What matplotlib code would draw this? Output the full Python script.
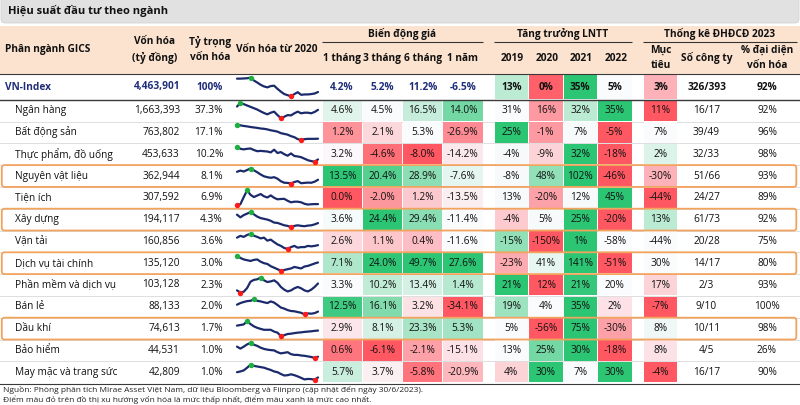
import matplotlib
matplotlib.use("Agg")
import matplotlib.pyplot as plt
from matplotlib.patches import Rectangle, FancyBboxPatch
from matplotlib.colors import LinearSegmentedColormap
import numpy as np

plt.rcParams['font.family'] = ['Open Sans', 'DejaVu Sans']

# ---------------- data ----------------
title = "Hiệu suất đầu tư theo ngành"
sectors = ["Ngân hàng", "Bất động sản", "Thực phẩm, đồ uống", "Nguyên vật liệu",
           "Tiện ích", "Xây dựng", "Vận tải", "Dịch vụ tài chính",
           "Phần mềm và dịch vụ", "Bán lẻ", "Dầu khí", "Bảo hiểm",
           "May mặc và trang sức"]
market_cap = [1663393, 763802, 453633, 362944, 307592, 194117, 160856, 135120,
              103128, 88133, 74613, 44531, 42809]
cap_weight = [37.3, 17.1, 10.2, 8.1, 6.9, 4.3, 3.6, 3.0, 2.3, 2.0, 1.7, 1.0, 1.0]
chg_1m = [4.6, 1.2, 3.2, 13.5, 0.0, 3.6, 2.6, 7.1, 3.3, 12.5, 2.9, 0.6, 5.7]
chg_3m = [4.5, 2.1, -4.6, 20.4, -2.0, 24.4, 1.1, 24.0, 10.2, 16.1, 8.1, -6.1, 3.7]
chg_6m = [16.5, 5.3, -8.0, 28.9, 1.2, 29.4, 0.4, 49.7, 13.4, 3.2, 23.3, -2.1, -5.8]
chg_1y = [14.0, -26.9, -14.2, -7.6, -13.5, -11.4, -11.6, 27.6, 1.4, -34.1, 5.3, -15.1, -20.9]
lntt_2019 = [31, 25, -4, -8, 13, -4, -15, -23, 21, 19, 5, 13, 4]
lntt_2020 = [16, -1, -9, 48, -20, 5, -150, 41, 12, 4, -56, 25, 30]
lntt_2021 = [32, 7, 32, 102, 12, 25, 1, 141, 21, 35, 75, 30, 7]
lntt_2022 = [35, -5, -18, -46, 45, -20, -58, -51, 20, 2, -30, -18, 30]
target = [11, 7, 2, -30, -44, 13, -44, 30, 17, -7, 8, 8, -4]
companies = ["16/17", "39/49", "32/33", "51/66", "24/27", "61/73", "20/28",
             "14/17", "2/3", "9/10", "10/11", "4/5", "16/17"]
cap_represent = [92, 96, 98, 93, 89, 92, 75, 80, 93, 100, 98, 26, 90]
highlighted = ["Nguyên vật liệu", "Xây dựng", "Dịch vụ tài chính", "Dầu khí"]

vn_name = "VN-Index"
vn_cap = 4463901
vn_weight = 100
vn_chg = [4.2, 5.2, 11.2, -6.5]
vn_lntt = [13, 0, 35, 5]
vn_target = 3
vn_companies = "326/393"
vn_represent = 92

price_headers = ["1 tháng", "3 tháng", "6 tháng", "1 năm"]
lntt_headers = ["2019", "2020", "2021", "2022"]

# market-cap trend since 2020 (relative level, read from sparklines)
spark_vn = [0.95, 0.95, 0.96, 0.97, 1.0, 0.85, 0.74, 0.62, 0.53, 0.48, 0.55, 0.57, 0.40,
            0.25, 0.12, 0.06, 0.0, 0.12, 0.22, 0.08, 0.10, 0.10, 0.12, 0.15, 0.23]
spark_sectors = [
    [0.77, 1.0, 0.93, 0.84, 0.75, 0.66, 0.57, 0.45, 0.34, 0.25, 0.36, 0.43, 0.20,
     0.0, 0.09, 0.20, 0.18, 0.32, 0.43, 0.32, 0.36, 0.36, 0.32, 0.41, 0.55],
    [1.0, 0.97, 0.93, 0.90, 0.86, 0.83, 0.80, 0.76, 0.74, 0.70, 0.64, 0.60, 0.55,
     0.45, 0.40, 0.35, 0.25, 0.18, 0.05, 0.0, 0.05, 0.07, 0.07, 0.07, 0.08],
    [1.0, 0.86, 0.82, 0.86, 0.88, 0.78, 0.70, 0.72, 0.70, 0.68, 0.62, 0.80, 0.58,
     0.64, 0.50, 0.40, 0.55, 0.38, 0.35, 0.30, 0.20, 0.10, 0.04, 0.0, 0.15],
    [0.78, 0.86, 0.80, 0.90, 1.0, 0.88, 0.75, 0.60, 0.48, 0.42, 0.38, 0.42, 0.32,
     0.15, 0.05, 0.04, 0.0, 0.10, 0.16, 0.02, 0.04, 0.06, 0.05, 0.12, 0.25],
    [0.0, 0.07, 0.55, 1.0, 0.70, 0.55, 0.65, 0.75, 0.60, 0.52, 0.66, 0.50, 0.40,
     0.42, 0.43, 0.30, 0.20, 0.24, 0.24, 0.20, 0.10, 0.05, 0.07, 0.08, 0.08],
    [0.83, 0.65, 0.80, 0.90, 1.0, 0.85, 0.70, 0.60, 0.55, 0.50, 0.42, 0.30, 0.28,
     0.20, 0.12, 0.08, 0.0, 0.08, 0.12, 0.08, 0.06, 0.10, 0.12, 0.18, 0.27],
    [0.75, 0.87, 0.80, 0.93, 1.0, 0.88, 0.80, 0.70, 0.75, 0.55, 0.62, 0.45, 0.30,
     0.20, 0.06, 0.0, 0.12, 0.20, 0.08, 0.12, 0.12, 0.20, 0.17, 0.20, 0.25],
    [1.0, 0.85, 0.75, 0.70, 0.65, 0.72, 0.75, 0.60, 0.50, 0.45, 0.30, 0.20, 0.10,
     0.0, 0.05, 0.10, 0.15, 0.25, 0.20, 0.15, 0.28, 0.32, 0.40, 0.48, 0.55],
    [0.14, 0.0, 0.05, 0.30, 0.72, 0.84, 0.88, 1.0, 0.81, 0.70, 0.74, 0.81, 0.65,
     0.37, 0.19, 0.07, 0.14, 0.28, 0.37, 0.28, 0.14, 0.07, 0.19, 0.37, 0.60],
    [0.64, 0.75, 0.82, 0.88, 0.90, 1.0, 0.90, 0.86, 0.80, 0.75, 0.86, 0.78, 0.62,
     0.45, 0.38, 0.28, 0.22, 0.20, 0.15, 0.10, 0.0, 0.06, 0.04, 0.08, 0.18],
    [0.70, 0.74, 0.78, 1.0, 0.80, 0.65, 0.55, 0.48, 0.42, 0.42, 0.42, 0.30, 0.23,
     0.0, 0.06, 0.14, 0.16, 0.20, 0.23, 0.25, 0.28, 0.30, 0.32, 0.35, 0.37],
    [0.75, 0.62, 0.75, 0.90, 1.0, 0.88, 0.80, 0.68, 0.60, 0.55, 0.52, 0.50, 0.38,
     0.30, 0.34, 0.38, 0.25, 0.20, 0.20, 0.16, 0.14, 0.10, 0.06, 0.0, 0.08],
    [0.50, 0.55, 0.62, 0.80, 1.0, 0.92, 0.88, 0.84, 0.80, 0.72, 0.65, 0.55, 0.50,
     0.38, 0.28, 0.30, 0.36, 0.30, 0.22, 0.12, 0.02, 0.05, 0.04, 0.0, 0.15],
]

# ---------------- cell shading (style, -1 red .. +1 green) ----------------
vn_lntt_shade = [0.3, -0.95, 1.0, 0.0]
lntt_shade = [
    [0.0, -0.6, 0.3, 1.0], [1.0, -0.6, 0.02, -1.0], [0.02, -0.25, 1.0, -1.0],
    [0.02, 0.5, 1.0, -1.0], [0.02, -0.55, 0.02, 1.0], [-0.3, 0.02, 1.0, -1.0],
    [0.5, -1.0, 1.0, 0.0], [-0.5, 0.1, 1.0, -1.0], [1.0, -1.0, 0.95, 0.0],
    [0.45, 0.0, 1.0, -0.15], [0.0, -1.0, 1.0, -0.55], [0.0, 0.65, 1.0, -1.0],
    [-0.25, 1.0, 0.0, 1.0]]
vn_target_shade = -0.45
target_shade = [-1.0, 0.0, 0.15, -0.45, -1.0, 0.3, 0.0, 0.0, -0.25, -1.0, 0.05, -0.15, -1.0]

RED, MID, GREEN = "#FF5862", "#FBFBFE", "#2CC574"
cmap = LinearSegmentedColormap.from_list("rwg", [RED, MID, GREEN])
NAVY = "#1F2E7A"
LINE_NAVY = "#1B2A6B"
PEACH = "#FCE3CF"
ORANGE = "#F2A35E"


def shade_color(s):
    return cmap((s + 1) / 2)


def scale_shades(vals):
    v = np.asarray(vals, float)
    med, lo, hi = np.median(v), v.min(), v.max()
    out = []
    for x in v:
        if x >= med:
            out.append((x - med) / (hi - med) if hi > med else 0)
        else:
            out.append(-(med - x) / (med - lo) if med > lo else 0)
    return out


# ---------------- figure ----------------
W, H = 800, 405
fig = plt.figure(figsize=(8, 4.05), dpi=100)
ax = fig.add_axes([0, 0, 1, 1])
ax.set_xlim(0, W)
ax.set_ylim(H, 0)
ax.axis('off')

FS = 7.3
PX = 0.72  # points per pixel

# title bar
ax.add_patch(FancyBboxPatch((1, -8), 798, 31, boxstyle="round,pad=0,rounding_size=4",
                            fc="#E1E1E1", ec="#D2D2D2", lw=0.6))
ax.text(8, 11, title, fontsize=8.0, fontweight='bold', va='center', ha='left', color="#111111")

# header band
HDR_TOP, HDR_BOT = 26.0, 74.3
ax.add_patch(Rectangle((0, HDR_TOP), W, HDR_BOT - HDR_TOP, fc=PEACH, ec='none'))

name_x_hdr, name_x_row = 5, 15
cap_right = 180
weight_right = 223
spark_x0, spark_x1 = 237, 318
price_edges = np.linspace(322, 483, 5)
lntt_edges = np.linspace(494, 632, 5)
tgt_edges = (643.3, 677.7)
count_c = 706.5
repr_c = 767

hb = dict(fontsize=FS, fontweight='bold', va='center', color="#111111")
ax.text(name_x_hdr, 49.5, "Phân ngành GICS", ha='left', **hb)
ax.text(155, 41.5, "Vốn hóa", ha='center', **hb)
ax.text(155, 57.5, "(tỷ đồng)", ha='center', **hb)
ax.text(210, 41.5, "Tỷ trọng", ha='center', **hb)
ax.text(210, 57.5, "vốn hóa", ha='center', **hb)
ax.text(277, 49.5, "Vốn hóa từ 2020", ha='center', **hb)

groups = [("Biến động giá", price_edges[0], price_edges[-1]),
          ("Tăng trưởng LNTT", lntt_edges[0], lntt_edges[-1]),
          ("Thống kê ĐHĐCĐ 2023", tgt_edges[0], 796.5)]
for label, x0, x1 in groups:
    ax.text((x0 + x1) / 2, 33.5, label, ha='center', **hb)
    ax.plot([x0, x1], [42.3, 42.3], color="#333333", lw=1.1 * PX, solid_capstyle='butt')

for i, lab in enumerate(price_headers):
    ax.text((price_edges[i] + price_edges[i + 1]) / 2, 58.3, lab, ha='center', **hb)
for i, lab in enumerate(lntt_headers):
    ax.text((lntt_edges[i] + lntt_edges[i + 1]) / 2 + 1, 58.3, lab, ha='center', **hb)
tc = (tgt_edges[0] + tgt_edges[1]) / 2
ax.text(tc, 50.7, "Mục", ha='center', **hb)
ax.text(tc, 65.2, "tiêu", ha='center', **hb)
ax.text(count_c, 58.3, "Số công ty", ha='center', **hb)
ax.text(repr_c, 50.7, "% đại diện", ha='center', **hb)
ax.text(repr_c, 65.2, "vốn hóa", ha='center', **hb)

# rows geometry
VN_TOP, VN_BOT = HDR_BOT, 99.7
ROW_H = 21.8
n = len(sectors)
row_tops = [VN_BOT + i * ROW_H for i in range(n)]
TABLE_BOT = VN_BOT + n * ROW_H

# light row separators
for i in range(1, n):
    y = row_tops[i]
    ax.plot([0, W], [y, y], color="#DCDCDC", lw=0.9 * PX, zorder=1)


def cell(x0, x1, y0, y1, color):
    ax.add_patch(Rectangle((x0 + 0.5, y0 + 0.7), x1 - x0 - 1.0, y1 - y0 - 1.4,
                           fc=color, ec='none', zorder=2))


def spark(vals, y0, y1, lw=1.6):
    pad = 3.4
    sa = fig.add_axes([spark_x0 / W, 1 - (y1 - pad) / H, (spark_x1 - spark_x0) / W,
                       (y1 - y0 - 2 * pad) / H])
    v = np.asarray(vals)
    xs = np.arange(len(v))
    sa.plot(xs, v, color=LINE_NAVY, lw=lw, solid_joinstyle='round', solid_capstyle='round',
            clip_on=False)
    imax, imin = int(np.argmax(v)), int(np.argmin(v))
    sa.plot(xs[imax], v[imax], 'o', color="#1DB03F", ms=3.9, mec='none', clip_on=False, zorder=5)
    sa.plot(xs[imin], v[imin], 'o', color="#FF1A1A", ms=3.9, mec='none', clip_on=False, zorder=5)
    sa.set_xlim(0, len(v) - 1)
    sa.set_ylim(v.min(), v.max())
    sa.axis('off')


# VN-Index row
vc = (VN_TOP + VN_BOT) / 2
nb = dict(fontsize=FS, fontweight='bold', va='center', color=NAVY)
ax.text(name_x_hdr, vc, vn_name, ha='left', **nb)
ax.text(cap_right, vc, f"{vn_cap:,}", ha='right', **nb)
ax.text(weight_right, vc, f"{vn_weight}%", ha='right', **nb)
for j, v in enumerate(vn_chg):
    ax.text((price_edges[j] + price_edges[j + 1]) / 2, vc, f"{v:.1f}%", ha='center', **nb)
for j, v in enumerate(vn_lntt):
    cell(lntt_edges[j], lntt_edges[j + 1], VN_TOP, VN_BOT, shade_color(vn_lntt_shade[j]))
    ax.text((lntt_edges[j] + lntt_edges[j + 1]) / 2, vc, f"{v}%", ha='center',
            fontsize=FS, fontweight='bold', va='center', color='#111111', zorder=3)
cell(tgt_edges[0], tgt_edges[1], VN_TOP, VN_BOT, shade_color(vn_target_shade))
bk = dict(fontsize=FS, fontweight='bold', va='center', color='#111111', zorder=3)
ax.text(tc, vc, f"{vn_target}%", ha='center', **bk)
ax.text(count_c, vc, vn_companies, ha='center', **bk)
ax.text(repr_c, vc, f"{vn_represent}%", ha='center', **bk)
spark(spark_vn, VN_TOP, VN_BOT)

# sector rows
price_cols = [chg_1m, chg_3m, chg_6m, chg_1y]
price_shades = [scale_shades(c) for c in price_cols]
lntt_cols = [lntt_2019, lntt_2020, lntt_2021, lntt_2022]
tx = dict(fontsize=FS, va='center', color='#111111', zorder=3)
for i, name in enumerate(sectors):
    y0 = row_tops[i]
    y1 = y0 + ROW_H
    yc = (y0 + y1) / 2
    ax.text(name_x_row, yc, name, ha='left', **tx)
    ax.text(cap_right, yc, f"{market_cap[i]:,}", ha='right', **tx)
    ax.text(weight_right, yc, f"{cap_weight[i]:.1f}%", ha='right', **tx)
    for j, col in enumerate(price_cols):
        cell(price_edges[j], price_edges[j + 1], y0, y1, shade_color(price_shades[j][i]))
        ax.text((price_edges[j] + price_edges[j + 1]) / 2, yc, f"{col[i]:.1f}%", ha='center', **tx)
    for j, col in enumerate(lntt_cols):
        cell(lntt_edges[j], lntt_edges[j + 1], y0, y1, shade_color(lntt_shade[i][j]))
        ax.text((lntt_edges[j] + lntt_edges[j + 1]) / 2, yc, f"{col[i]}%", ha='center', **tx)
    cell(tgt_edges[0], tgt_edges[1], y0, y1, shade_color(target_shade[i]))
    ax.text(tc, yc, f"{target[i]}%", ha='center', **tx)
    ax.text(count_c, yc, companies[i], ha='center', **tx)
    ax.text(repr_c, yc, f"{cap_represent[i]}%", ha='center', **tx)
    spark(spark_sectors[i], y0, y1)
    if name in highlighted:
        ax.add_patch(FancyBboxPatch((1.8, y0), 794.5, ROW_H,
                                    boxstyle="round,pad=0,rounding_size=2.5",
                                    fc='none', ec=ORANGE, lw=1.3, zorder=6))

# strong rules
ax.plot([0, W], [HDR_BOT, HDR_BOT], color="#3A3A3A", lw=1.1 * PX, zorder=4)
ax.plot([0, W], [VN_BOT, VN_BOT], color="#3A3A3A", lw=1.4 * PX, zorder=4)
ax.plot([0, W], [TABLE_BOT + 0.5, TABLE_BOT + 0.5], color="#3A3A3A", lw=1.1 * PX, zorder=4)

# footnotes
ax.text(3, 389.5, "Nguồn: Phòng phân tích Mirae Asset Việt Nam, dữ liệu Bloomberg và Fiinpro "
        "(cập nhật đến ngày 30/6/2023).", fontsize=6.05, ha='left', va='center', color='#222222')
ax.text(3, 400, "Điểm màu đỏ trên đồ thị xu hướng vốn hóa là mức thấp nhất, điểm màu xanh "
        "là mức cao nhất.", fontsize=6.05, ha='left', va='center', color='#222222')

fig.savefig("out.png", dpi=100)
